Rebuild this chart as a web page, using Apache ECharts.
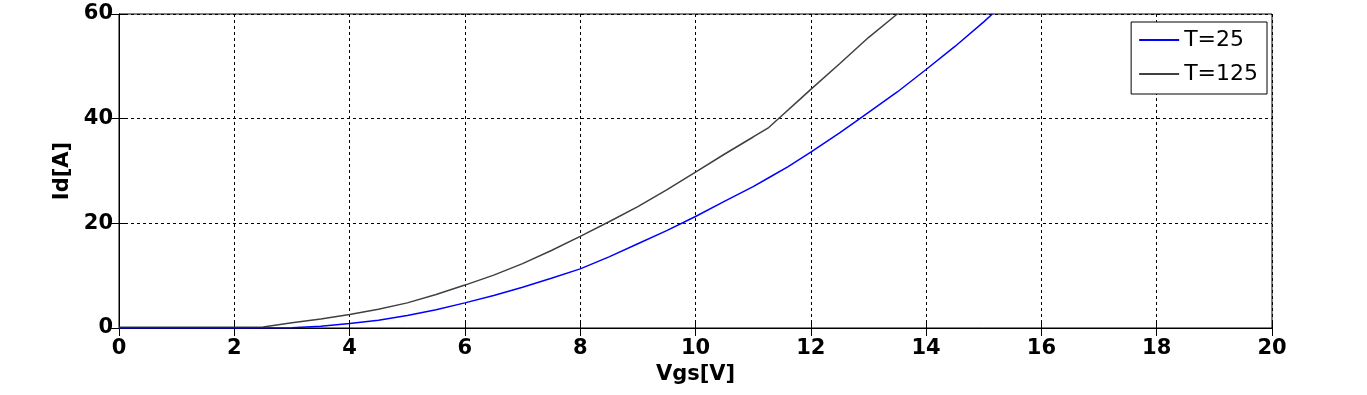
<!DOCTYPE html>
<html>
<head>
<meta charset="utf-8">
<script src="https://cdn.jsdelivr.net/npm/echarts@6/dist/echarts.min.js"></script>
<style>
html,body{margin:0;padding:0;background:#fff;}
#c{width:1367px;height:395px;}
</style>
</head>
<body>
<div id="c"></div>
<script>
// Data
const vgs25 = [0, 1, 2, 3, 3.5, 4, 4.5, 5, 5.5, 6, 6.5, 7, 7.5, 8, 8.5, 9, 9.5, 10, 10.5, 11, 11.3, 11.6, 12, 12.5, 12.85, 13.5, 14, 14.5, 15, 15.15];
const id25  = [0, 0, 0, 0.05, 0.35, 0.85, 1.5, 2.4, 3.5, 4.8, 6.2, 7.8, 9.5, 11.3, 13.6, 16.1, 18.6, 21.3, 24.2, 27.0, 28.9, 30.8, 33.6, 37.3, 40.0, 45.1, 49.4, 53.8, 58.5, 60];
const vgs125 = [0, 1, 2, 2.5, 3, 3.5, 4, 4.5, 5, 5.5, 6, 6.5, 7, 7.5, 8, 8.5, 9, 9.5, 10, 10.5, 11, 11.27, 11.5, 11.8, 12, 12.5, 13, 13.5];
const id125  = [0.15, 0.15, 0.15, 0.2, 1.0, 1.7, 2.6, 3.6, 4.8, 6.4, 8.2, 10.1, 12.3, 14.8, 17.5, 20.3, 23.2, 26.4, 29.8, 33.2, 36.5, 38.3, 40.6, 43.6, 45.6, 50.5, 55.5, 60];
const seriesNames = ['T=25', 'T=125'];
const xLabel = 'Vgs[V]';
const yLabel = 'Id[A]';

const chart = echarts.init(document.getElementById('c'));
const font = 'DejaVu Sans, sans-serif';
const labelStyle = {color: '#000', fontSize: 21, fontWeight: 'bold', fontFamily: font};
chart.setOption({
  animation: false,
  backgroundColor: '#fff',
  grid: {left: 119, right: 95, top: 14, bottom: 67, show: true, borderColor: '#000', borderWidth: 1},
  legend: {
    right: 100, top: 22, orient: 'vertical',
    backgroundColor: '#fff', borderColor: '#000', borderWidth: 1,
    padding: [7, 9, 9, 8], itemGap: 12,
    itemWidth: 40, itemHeight: 2, icon: 'rect',
    textStyle: {fontSize: 22, color: '#000', fontFamily: font},
    data: seriesNames
  },
  xAxis: [{
    type: 'value', min: 0, max: 20, interval: 2,
    name: xLabel, nameLocation: 'middle', nameGap: 31,
    nameTextStyle: labelStyle,
    axisLine: {show: true, lineStyle: {color: '#000', width: 1}},
    axisTick: {show: true, inside: true, length: 8, lineStyle: {color: '#000'}},
    axisLabel: Object.assign({margin: 10}, labelStyle),
    splitLine: {show: true, lineStyle: {color: '#000', type: [3, 3], width: 1}}
  }, {
    type: 'value', min: 0, max: 20, interval: 2, position: 'top',
    axisLine: {show: true, lineStyle: {color: '#000'}},
    axisTick: {show: true, inside: true, length: 8, lineStyle: {color: '#000'}},
    axisLabel: {show: false}, splitLine: {show: false}
  }],
  yAxis: [{
    type: 'value', min: 0, max: 60, interval: 20,
    name: yLabel, nameLocation: 'middle', nameGap: 42,
    nameTextStyle: labelStyle,
    axisLine: {show: true, lineStyle: {color: '#000', width: 1}},
    axisTick: {show: true, inside: true, length: 8, lineStyle: {color: '#000'}},
    axisLabel: Object.assign({margin: 6}, labelStyle),
    splitLine: {show: true, lineStyle: {color: '#000', type: [3, 3], width: 1}}
  }, {
    type: 'value', min: 0, max: 60, interval: 20, position: 'right',
    axisLine: {show: true, lineStyle: {color: '#000'}},
    axisTick: {show: true, inside: true, length: 8, lineStyle: {color: '#000'}},
    axisLabel: {show: false}, splitLine: {show: false}
  }],
  series: [{
    name: seriesNames[0], type: 'line', showSymbol: false, symbol: 'none',
    lineStyle: {color: '#0000ff', width: 1.5}, itemStyle: {color: '#0000ff'},
    data: vgs25.map((x, i) => [x, id25[i]]), z: 3
  }, {
    name: seriesNames[1], type: 'line', showSymbol: false, symbol: 'none',
    lineStyle: {color: '#404040', width: 1.5}, itemStyle: {color: '#404040'},
    data: vgs125.map((x, i) => [x, id125[i]]), z: 2
  }]
});
</script>
</body>
</html>
